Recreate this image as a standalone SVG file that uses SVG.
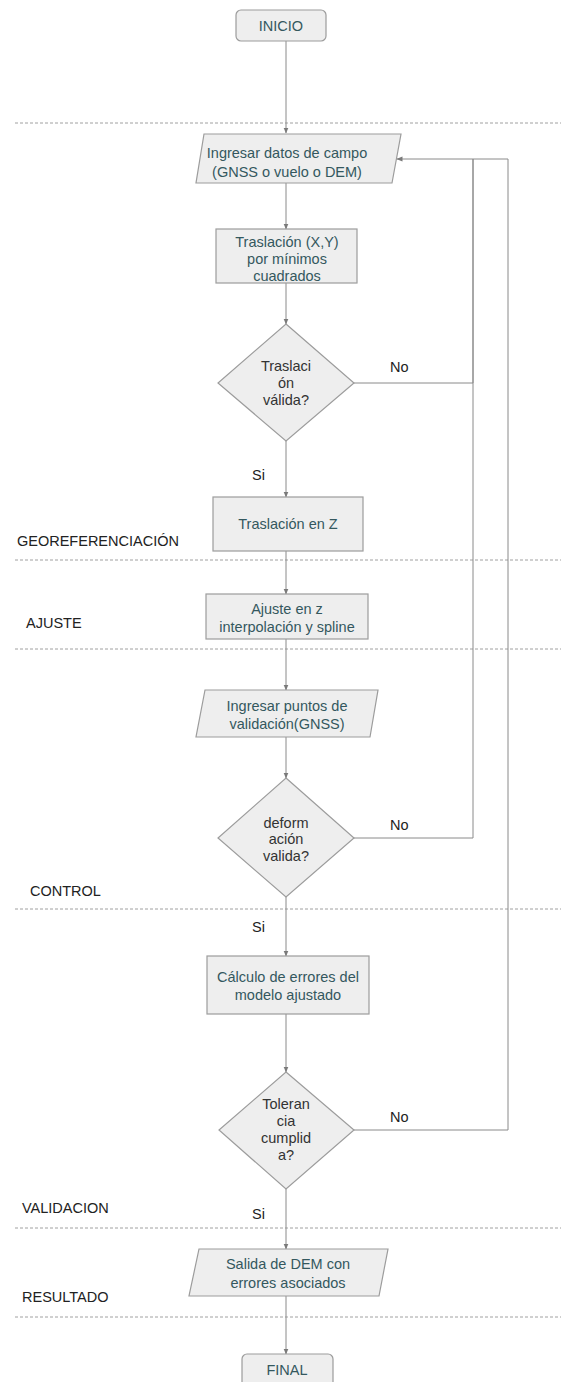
<svg xmlns="http://www.w3.org/2000/svg" width="561" height="1382" viewBox="0 0 561 1382">
<defs>
<marker id="arr" markerWidth="6" markerHeight="6" refX="5.5" refY="3" orient="auto" markerUnits="userSpaceOnUse">
<path d="M0,0.5 L6,3 L0,5.5 z" fill="#7a7a7a"/>
</marker>
<style>
.node{fill:#eeeeee;stroke:#9c9c9c;stroke-width:1.2}
.nt{font-family:"Liberation Sans",Arial,sans-serif;font-size:14.5px;fill:#34585e;text-anchor:middle}
.dt{font-family:"Liberation Sans",Arial,sans-serif;font-size:14.5px;fill:#333333;text-anchor:middle}
.lbl{font-family:"Liberation Sans",Arial,sans-serif;font-size:14.5px;fill:#222222}
.con{fill:none;stroke:#8a8a8a;stroke-width:1}
.sep{stroke:#a0a0a0;stroke-width:1;stroke-dasharray:3,2}
</style>
</defs>
<rect width="561" height="1382" fill="#ffffff"/>

<g id="separators">
<line class="sep" x1="15" y1="123" x2="561" y2="123"/>
<line class="sep" x1="15" y1="560" x2="561" y2="560"/>
<line class="sep" x1="15" y1="649" x2="561" y2="649"/>
<line class="sep" x1="15" y1="909" x2="561" y2="909"/>
<line class="sep" x1="15" y1="1228" x2="561" y2="1228"/>
<line class="sep" x1="15" y1="1317" x2="561" y2="1317"/>
</g>

<g id="section-labels">
<text class="lbl" x="17" y="546">GEOREFERENCIACIÓN</text>
<text class="lbl" x="26" y="628">AJUSTE</text>
<text class="lbl" x="30" y="896">CONTROL</text>
<text class="lbl" x="22" y="1213">VALIDACION</text>
<text class="lbl" x="22" y="1302">RESULTADO</text>
</g>

<g id="connectors">
<line class="con" x1="286" y1="41" x2="286" y2="133" marker-end="url(#arr)"/>
<line class="con" x1="286" y1="183" x2="286" y2="229" marker-end="url(#arr)"/>
<line class="con" x1="286" y1="283" x2="286" y2="324" marker-end="url(#arr)"/>
<line class="con" x1="286" y1="441" x2="286" y2="497" marker-end="url(#arr)"/>
<line class="con" x1="286" y1="551" x2="286" y2="594" marker-end="url(#arr)"/>
<line class="con" x1="286" y1="639" x2="286" y2="690" marker-end="url(#arr)"/>
<line class="con" x1="286" y1="737" x2="286" y2="778" marker-end="url(#arr)"/>
<line class="con" x1="286" y1="897" x2="286" y2="956" marker-end="url(#arr)"/>
<line class="con" x1="286" y1="1014" x2="286" y2="1072" marker-end="url(#arr)"/>
<line class="con" x1="286" y1="1189" x2="286" y2="1249" marker-end="url(#arr)"/>
<line class="con" x1="286" y1="1296" x2="286" y2="1354" marker-end="url(#arr)"/>
<polyline class="con" points="354,383 473,383 473,159"/>
<polyline class="con" points="354,838 473,838 473,159"/>
<polyline class="con" points="354,1130 508,1130 508,159 397,159" marker-end="url(#arr)"/>
<text class="lbl" x="390" y="372">No</text>
<text class="lbl" x="390" y="830">No</text>
<text class="lbl" x="390" y="1122">No</text>
<text class="lbl" x="252" y="480">Si</text>
<text class="lbl" x="252" y="932">Si</text>
<text class="lbl" x="252" y="1219">Si</text>
</g>

<g id="inicio">
<rect class="node" x="236" y="10" width="90" height="31" rx="5"/>
<text class="nt" x="281" y="31">INICIO</text>
</g>

<g id="ingresar-datos">
<polygon class="node" points="204,134 401,134 392,183 196,183"/>
<text class="nt" x="287" y="158">Ingresar datos de campo</text>
<text class="nt" x="287" y="177">(GNSS o vuelo o DEM)</text>
</g>

<g id="traslacion-xy">
<rect class="node" x="216" y="229" width="141" height="54"/>
<text class="nt" x="287" y="247">Traslación (X,Y)</text>
<text class="nt" x="287" y="264">por mínimos</text>
<text class="nt" x="287" y="281">cuadrados</text>
</g>

<g id="traslacion-valida">
<polygon class="node" points="286,324 354,383 286,441 218,383"/>
<text class="dt" x="286" y="371">Traslaci</text>
<text class="dt" x="286" y="388">ón</text>
<text class="dt" x="286" y="405">válida?</text>
</g>

<g id="traslacion-z">
<rect class="node" x="213" y="497" width="150" height="54"/>
<text class="nt" x="288" y="529">Traslación en Z</text>
</g>

<g id="ajuste-z">
<rect class="node" x="206" y="594" width="162" height="45"/>
<text class="nt" x="287" y="614">Ajuste en z</text>
<text class="nt" x="287" y="632">interpolación y spline</text>
</g>

<g id="ingresar-puntos">
<polygon class="node" points="205,690 378,690 370,737 196,737"/>
<text class="nt" x="287" y="711">Ingresar puntos de</text>
<text class="nt" x="287" y="729">validación(GNSS)</text>
</g>

<g id="deformacion-valida">
<polygon class="node" points="286,778 354,838 286,897 218,838"/>
<text class="dt" x="286" y="828">deform</text>
<text class="dt" x="286" y="844">ación</text>
<text class="dt" x="286" y="861">valida?</text>
</g>

<g id="calculo-errores">
<rect class="node" x="207" y="956" width="162" height="58"/>
<text class="nt" x="288" y="982">Cálculo de errores del</text>
<text class="nt" x="288" y="1000">modelo ajustado</text>
</g>

<g id="tolerancia-cumplida">
<polygon class="node" points="286,1072 354,1130 286,1189 219,1130"/>
<text class="dt" x="286" y="1109">Toleran</text>
<text class="dt" x="286" y="1126">cia</text>
<text class="dt" x="286" y="1143">cumplid</text>
<text class="dt" x="286" y="1160">a?</text>
</g>

<g id="salida-dem">
<polygon class="node" points="199,1249 388,1249 379,1296 189,1296"/>
<text class="nt" x="288" y="1269">Salida de DEM con</text>
<text class="nt" x="288" y="1288">errores asociados</text>
</g>

<g id="final">
<rect class="node" x="242" y="1354" width="91" height="42" rx="5"/>
<text class="nt" x="287" y="1375">FINAL</text>
</g>
</svg>
